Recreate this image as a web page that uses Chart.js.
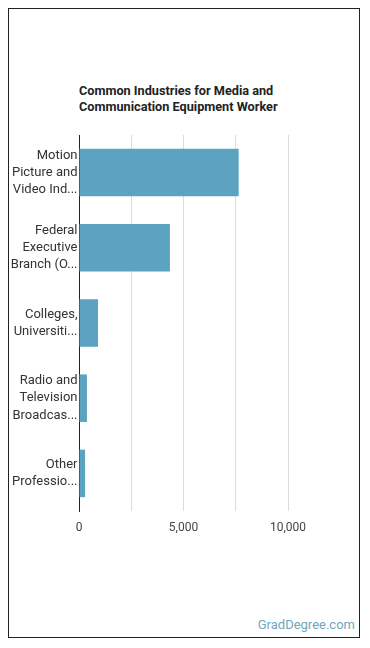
<!DOCTYPE html>
<html>
<head>
<meta charset="utf-8">
<script src="https://cdn.jsdelivr.net/npm/chart.js@4"></script>
<style>
  body { margin: 0; width: 370px; height: 648px; background: #fff; position: relative; font-family: Roboto, sans-serif; }
  #frame { position: absolute; left: 8px; top: 8px; width: 352px; height: 630px; box-sizing: border-box; border: 1px solid #222; }
  #title { position: absolute; left: 79px; top: 83px; font: bold 12.7px Roboto, sans-serif; line-height: 15.5px; color: #222; }
  #brand { position: absolute; right: 15px; top: 617px; font: 13px Roboto, sans-serif; line-height: 16px; color: #6ea7bf; }
  #myChart { position: absolute; left: 9px; top: 130px; }
</style>
</head>
<body>
<div id="frame"></div>
<div id="title">Common Industries for Media and<br>Communication Equipment Worker</div>
<canvas id="myChart" width="349" height="410"></canvas>
<div id="brand">GradDegree.com</div>
<script>
const industries = [
  ['Motion', 'Picture and', 'Video Ind...'],
  ['Federal', 'Executive', 'Branch (O...'],
  ['Colleges,', 'Universiti...'],
  ['Radio and', 'Television', 'Broadcas...'],
  ['Other', 'Professio...']
];
const workers = [7640, 4350, 910, 380, 290];
const xTicks = [0, 5000, 10000];

const ctx = document.getElementById('myChart');

const data = {
  labels: industries,
  datasets: [
    {
      label: 'Workers',
      data: workers,
      backgroundColor: '#5ca3c1',
      borderWidth: 0,
      categoryPercentage: 0.8,
      barPercentage: 0.79,
    }
  ]
};

const config = {
  type: 'bar',
  data: data,
  options: {
    indexAxis: 'y',
    responsive: false,
    maintainAspectRatio: false,
    animation: false,
    devicePixelRatio: 1,
    layout: {
      padding: { top: 5, right: 70, left: 0, bottom: 0 }
    },
    scales: {
      x: {
        min: 0,
        max: 10000,
        ticks: {
          stepSize: 2500,
          autoSkip: false,
          maxRotation: 0,
          padding: 10,
          color: '#444',
          font: { family: 'Roboto', size: 12 },
          callback: (v) => xTicks.includes(v) ? v.toLocaleString('en-US') : ''
        },
        grid: { color: '#dcdcdc', drawTicks: false },
        border: { display: false },
        afterFit: (scale) => { scale.height = 29; }
      },
      y: {
        ticks: {
          padding: 1.5,
          color: '#333',
          font: { family: 'Roboto', size: 13, lineHeight: 1.33 }
        },
        grid: { display: false, drawTicks: false },
        border: { display: true, color: '#222', width: 1 },
        afterFit: (scale) => {
          // keep the plot area where the reference has it
          scale.width = 70;
          scale.paddingTop = 0;
          scale.paddingBottom = 0;
        }
      }
    },
    plugins: {
      legend: { display: false },
      title: { display: false },
      tooltip: { enabled: false }
    }
  }
};

new Chart(ctx, config);
</script>
</body>
</html>
